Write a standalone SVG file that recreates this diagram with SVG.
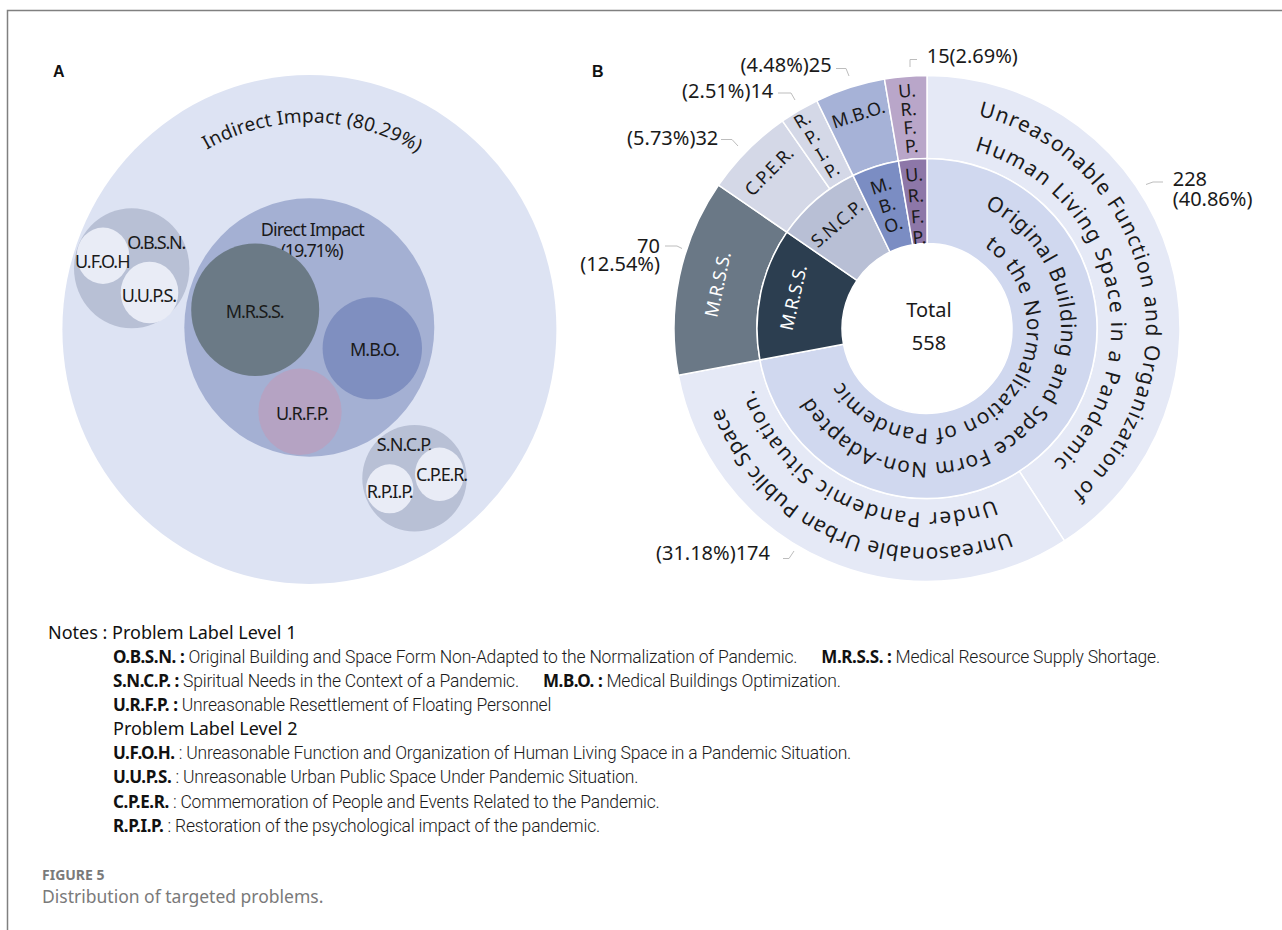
<svg xmlns="http://www.w3.org/2000/svg" width="1282" height="930" viewBox="0 0 1282 930">
<style>
.la{font-family:"Noto Sans","Open Sans",sans-serif;font-size:18px;fill:#1a1a1a}
.lw{font-family:"Noto Sans","Open Sans",sans-serif;font-size:18px;fill:#ffffff}
.nb{font-family:"Noto Sans","Open Sans",sans-serif;font-size:20px;fill:#1a1a1a}
.cv{font-family:"Noto Sans","Open Sans",sans-serif;font-size:21px;fill:#1a1a1a}
.pl{font-family:"Liberation Sans",Arial,sans-serif;font-size:16px;font-weight:bold;fill:#111}
.nh{font-family:"Noto Sans","Open Sans",sans-serif;font-size:18px;fill:#111}
.lb{font-family:"Noto Sans","Open Sans",sans-serif;font-size:17px;font-weight:700;letter-spacing:-0.4px;fill:#111}
.ds{font-family:Roboto,"Noto Sans",sans-serif;font-size:17.5px;font-weight:300;letter-spacing:-0.2px;fill:#1a1a1a}
.sec{stroke:#ffffff;stroke-width:1.5}
.ld{fill:none;stroke:#bdbdbd;stroke-width:1}
.cap1{font-family:"Noto Sans","Open Sans",sans-serif;font-size:14px;font-weight:700;fill:#7a7a7a}
.cap2{font-family:"Noto Sans","Open Sans",sans-serif;font-size:17.5px;fill:#7a7a7a}
</style>
<defs>
<path id="pA" d="M102.4,329.5 A207,207 0 0 1 516.4,329.5"/>
<path id="pU1" d="M978.13,115.55 A219,219 0 0 1 1044.67,513.20"/>
<path id="pU2" d="M974.62,150.77 A184,184 0 0 1 1033.85,478.30"/>
<path id="pV1" d="M1009.04,531.55 A219,219 0 0 1 713.61,377.76"/>
<path id="pV2" d="M994.44,499.70 A184,184 0 0 1 746.38,363.61"/>
<path id="pO1" d="M984.69,207.55 A134,134 0 1 1 803.20,379.78"/>
<path id="pO2" d="M984.36,246.59 A100,100 0 1 1 835.64,369.17"/>
</defs>
<rect x="0" y="0" width="1282" height="930" fill="#ffffff"/>
<g id="frame" fill="none" stroke="#808080" stroke-width="1.5">
<polyline points="7.5,930 7.5,10.5 1282,10.5"/>
</g>

<!-- Panel A -->
<g id="panelA">
<text class="pl" x="53" y="77">A</text>
<g id="a-indirect">
<ellipse cx="309.4" cy="329.5" rx="247" ry="254.5" fill="#dde3f3"/>
<text class="la" style="font-size:19px"><textPath href="#pA" startOffset="217.7" textLength="221">Indirect Impact (80.29%)</textPath></text>
</g>
<g id="a-obsn">
<ellipse cx="131.7" cy="268.3" rx="57.7" ry="60" fill="#b8c0d5"/>
<text class="la" x="127.3" y="249.3" textLength="59">O.B.S.N.</text>
</g>
<g id="a-ufoh">
<ellipse cx="103" cy="255.8" rx="26.3" ry="28.2" fill="#e9ecf6"/>
<text class="la" x="75" y="267.7" textLength="55.5">U.F.O.H</text>
</g>
<g id="a-uups">
<ellipse cx="149.5" cy="292.5" rx="28.8" ry="30.8" fill="#e9ecf6"/>
<text class="la" x="121.7" y="301.7" textLength="55.5">U.U.P.S.</text>
</g>
<g id="a-direct">
<ellipse cx="309.3" cy="327.5" rx="125" ry="129.2" fill="#a4b0d3"/>
<text class="la" x="260.7" y="236" textLength="104">Direct Impact</text>
<text class="la" x="280.7" y="256.7" textLength="63">(19.71%)</text>
</g>
<g id="a-mrss">
<ellipse cx="255.2" cy="309.7" rx="64" ry="66.3" fill="#6b7a86"/>
<text class="la" x="225.7" y="318.3" textLength="59">M.R.S.S.</text>
</g>
<g id="a-mbo">
<ellipse cx="372.3" cy="348.3" rx="49.7" ry="51" fill="#7f8fc0"/>
<text class="la" x="350" y="356" textLength="50">M.B.O.</text>
</g>
<g id="a-urfp">
<ellipse cx="300" cy="411.7" rx="41.7" ry="43.3" fill="#b5a3c3"/>
<text class="la" x="276" y="420" textLength="53">U.R.F.P.</text>
</g>
<g id="a-sncp">
<ellipse cx="414.5" cy="478.3" rx="52.2" ry="53.3" fill="#b8c0d5"/>
<text class="la" x="376.7" y="450.7" textLength="56">S.N.C.P.</text>
</g>
<g id="a-cper">
<ellipse cx="439.5" cy="474.3" rx="24.5" ry="26.7" fill="#e9ecf6"/>
<text class="la" x="416" y="481" textLength="52">C.P.E.R.</text>
</g>
<g id="a-rpip">
<ellipse cx="389.7" cy="488.8" rx="23.7" ry="24.5" fill="#e9ecf6"/>
<text class="la" x="366.7" y="498.3" textLength="47">R.P.I.P.</text>
</g>
</g>

<!-- Panel B -->
<g id="panelB">
<text class="pl" x="592" y="76.5">B</text>
<g id="b-ufoh">
<path class="sec" fill="#e5e9f6" d="M927,75.5 A253,253 0 0 1 1064.43,540.92 L1019.35,471.23 A170,170 0 0 0 927,158.5 Z"/>
<text class="cv"><textPath href="#pU1" textLength="478">Unreasonable Function and Organization of</textPath></text>
<text class="cv"><textPath href="#pU2" textLength="390">Human Living Space in a Pandemic</textPath></text>
</g>
<g id="b-uups">
<path class="sec" fill="#e5e9f6" d="M1064.43,540.92 A253,253 0 0 1 678.35,375.24 L759.92,359.90 A170,170 0 0 0 1019.35,471.23 Z"/>
<text class="cv"><textPath href="#pV1" textLength="347">Unreasonable Urban Public Space</textPath></text>
<text class="cv"><textPath href="#pV2" textLength="296">Under Pandemic Situation.</textPath></text>
</g>
<g id="b-mrss-outer">
<path class="sec" fill="#6a7886" d="M678.35,375.24 A253,253 0 0 1 718.53,185.14 L786.92,232.17 A170,170 0 0 0 759.92,359.90 Z"/>
<text class="lw" text-anchor="middle" transform="translate(717.6,284.4) rotate(-78)" y="6.5">M.R.S.S.</text>
</g>
<g id="b-cper">
<path class="sec" fill="#d4d8e7" d="M718.53,185.14 A253,253 0 0 1 782.47,120.85 L829.88,188.97 A170,170 0 0 0 786.92,232.17 Z"/>
<text class="la" text-anchor="middle" transform="translate(768.9,171.2) rotate(-45)" y="6.5">C.P.E.R.</text>
</g>
<g id="b-rpip">
<path class="sec" fill="#d4d8e7" d="M782.47,120.85 A253,253 0 0 1 816.86,100.73 L852.99,175.45 A170,170 0 0 0 829.88,188.97 Z"/>
<text class="la" text-anchor="middle" transform="translate(817,145) rotate(-30.3)"><tspan x="0" y="-22.75">R.</tspan><tspan x="0" y="-3.25">P.</tspan><tspan x="0" y="16.25">I.</tspan><tspan x="0" y="35.75">P.</tspan></text>
</g>
<g id="b-mbo-outer">
<path class="sec" fill="#a6b2d7" d="M816.86,100.73 A253,253 0 0 1 884.47,79.10 L898.42,160.92 A170,170 0 0 0 852.99,175.45 Z"/>
<text class="la" text-anchor="middle" transform="translate(858.4,114.2) rotate(-17.7)" y="6.5">M.B.O.</text>
</g>
<g id="b-urfp-outer">
<path class="sec" fill="#b9a6c9" d="M884.47,79.10 A253,253 0 0 1 927,75.5 L927,158.5 A170,170 0 0 0 898.42,160.92 Z"/>
<text class="la" text-anchor="middle" transform="translate(909.2,118.3) rotate(-4.8)"><tspan x="0" y="-21.25">U.</tspan><tspan x="0" y="-2.75">R.</tspan><tspan x="0" y="15.75">F.</tspan><tspan x="0" y="34.25">P.</tspan></text>
</g>
<g id="b-obsn">
<path class="sec" fill="#d0d8ef" d="M927,158.5 A170,170 0 1 1 759.92,359.90 L843.46,344.20 A85,85 0 1 0 927,243.5 Z"/>
<text class="cv"><textPath href="#pO1" textLength="500">Original Building and Space Form Non-Adapted</textPath></text>
<text class="cv"><textPath href="#pO2" textLength="354">to the Normalization of Pandemic</textPath></text>
</g>
<g id="b-mrss-inner">
<path class="sec" fill="#2c3e50" d="M759.92,359.90 A170,170 0 0 1 786.92,232.17 L856.96,280.33 A85,85 0 0 0 843.46,344.20 Z"/>
<text class="lw" text-anchor="middle" transform="translate(793.3,297.5) rotate(-77)" y="6.5">M.R.S.S.</text>
</g>
<g id="b-sncp">
<path class="sec" fill="#b8bfd5" d="M786.92,232.17 A170,170 0 0 1 852.99,175.45 L890.00,251.98 A85,85 0 0 0 856.96,280.33 Z"/>
<text class="la" text-anchor="middle" transform="translate(837,223.5) rotate(-40.6)" y="6.5">S.N.C.P.</text>
</g>
<g id="b-mbo-inner">
<path class="sec" fill="#7b8dc3" d="M852.99,175.45 A170,170 0 0 1 898.42,160.92 L912.71,244.71 A85,85 0 0 0 890.00,251.98 Z"/>
<text class="la" text-anchor="middle" transform="translate(887,205) rotate(-17.7)"><tspan x="0" y="-14">M.</tspan><tspan x="0" y="6.5">B.</tspan><tspan x="0" y="27">O.</tspan></text>
</g>
<g id="b-urfp-inner">
<path class="sec" fill="#8d77a8" d="M898.42,160.92 A170,170 0 0 1 927,158.5 L927,243.5 A85,85 0 0 0 912.71,244.71 Z"/>
<text class="la" text-anchor="middle" transform="translate(916.6,205.9) rotate(-4.8)"><tspan x="0" y="-25">U.</tspan><tspan x="0" y="-4">R.</tspan><tspan x="0" y="17">F.</tspan><tspan x="0" y="38">P.</tspan></text>
</g>
<g id="b-total">
<text class="nb" x="929" y="316.7" text-anchor="middle">Total</text>
<text class="nb" x="929" y="350" text-anchor="middle">558</text>
</g>
<g id="b-values">
<text class="nb" x="718.3" y="145" text-anchor="end">(5.73%)32</text>
<text class="nb" x="773.3" y="98.3" text-anchor="end">(2.51%)14</text>
<text class="nb" x="831.7" y="71.7" text-anchor="end">(4.48%)25</text>
<text class="nb" x="926.7" y="63.3">15(2.69%)</text>
<text class="nb" x="660" y="253" text-anchor="end">70</text>
<text class="nb" x="660" y="271" text-anchor="end">(12.54%)</text>
<text class="nb" x="1172.7" y="185.7">228</text>
<text class="nb" x="1172.7" y="205.5">(40.86%)</text>
<text class="nb" x="770" y="560" text-anchor="end">(31.18%)174</text>
</g>
</g>

<g id="connectors">
<polyline class="ld" points="721,139.5 732,139.5 738,146"/>
<polyline class="ld" points="778,93 791,93 795,100"/>
<polyline class="ld" points="836,68.5 846,68.5 849,76"/>
<polyline class="ld" points="917,59.5 910,59.5 910,67"/>
<polyline class="ld" points="665,246 677,246 682,248.5"/>
<polyline class="ld" points="1146,184.5 1153,182 1163,182"/>
<polyline class="ld" points="783,558.5 789,558.5 794,551"/>
</g>

<!-- Notes -->
<g id="notes">
<text class="nh" x="48" y="639">Notes : Problem Label Level 1</text>
<text x="113" y="663"><tspan class="lb">O.B.S.N. :</tspan><tspan class="ds"> Original Building and Space Form Non-Adapted to the Normalization of Pandemic.</tspan><tspan class="lb" dx="24">M.R.S.S. :</tspan><tspan class="ds"> Medical Resource Supply Shortage.</tspan></text>
<text x="113" y="687"><tspan class="lb">S.N.C.P. :</tspan><tspan class="ds"> Spiritual Needs in the Context of a Pandemic.</tspan><tspan class="lb" dx="24">M.B.O. :</tspan><tspan class="ds"> Medical Buildings Optimization.</tspan></text>
<text x="113" y="711"><tspan class="lb">U.R.F.P. :</tspan><tspan class="ds"> Unreasonable Resettlement of Floating Personnel</tspan></text>
<text class="nh" x="113" y="735">Problem Label Level 2</text>
<text x="113" y="759"><tspan class="lb">U.F.O.H.</tspan><tspan class="ds"> : Unreasonable Function and Organization of Human Living Space in a Pandemic Situation.</tspan></text>
<text x="113" y="783"><tspan class="lb">U.U.P.S.</tspan><tspan class="ds"> : Unreasonable Urban Public Space Under Pandemic Situation.</tspan></text>
<text x="113" y="808"><tspan class="lb">C.P.E.R.</tspan><tspan class="ds"> : Commemoration of People and Events Related to the Pandemic.</tspan></text>
<text x="113" y="832"><tspan class="lb">R.P.I.P.</tspan><tspan class="ds"> : Restoration of the psychological impact of the pandemic.</tspan></text>
</g>
<g id="caption">
<text class="cap1" x="42" y="880">FIGURE 5</text>
<text class="cap2" x="42" y="902.5">Distribution of targeted problems.</text>
</g>
</svg>
